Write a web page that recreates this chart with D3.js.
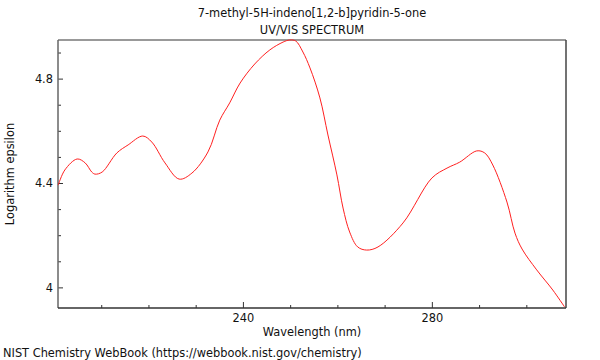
<!DOCTYPE html>
<html lang="en">
<head>
    <meta charset="UTF-8" />
    <title>UV/VIS spectrum</title>
    <script src="https://d3js.org/d3.v7.min.js"></script>
    <style>
        body { margin: 0; background: #fff; }
        svg text { font-family: "DejaVu Sans", sans-serif; fill: #111; }
    </style>
</head>
<body>
    <div class="canvas"></div>

    <script>
        /* 데이터: 파장(nm)과 log epsilon */
        const wavelength = [200.9, 202.3, 204.9, 206.6, 208.0, 208.7, 210.2, 213.3, 215.7, 218.8,
            220.7, 223.5, 226.5, 229.2, 232.6, 235.1, 237.2, 239.4, 242.5, 245.7,
            248.5, 249.9, 251.2, 252.7, 254.2, 256.3, 258.0, 259.9, 261.2, 262.6,
            264.3, 266.2, 268.6, 273.9, 280.0, 283.2, 285.9, 289.5, 291.2, 292.9,
            295.9, 297.6, 299.1, 302.2, 305.6, 308.1];
        const logEps = [4.392, 4.45, 4.492, 4.477, 4.442, 4.434, 4.442, 4.515, 4.546, 4.58,
            4.557, 4.477, 4.415, 4.438, 4.519, 4.641, 4.707, 4.783, 4.856, 4.91,
            4.94, 4.948, 4.944, 4.902, 4.841, 4.726, 4.584, 4.431, 4.304, 4.212,
            4.155, 4.143, 4.155, 4.247, 4.419, 4.457, 4.48, 4.523, 4.515, 4.469,
            4.327, 4.208, 4.147, 4.067, 3.99, 3.925];
        const xMajor = [240, 280];
        const xMinor = [210, 220, 230, 250, 260, 270, 290, 300];
        const yMajor = [4, 4.4, 4.8];
        const yMinor = [4.1, 4.2, 4.3, 4.5, 4.6, 4.7, 4.9];

        const 전체넓이 = 600, 전체높이 = 360;
        const [상단, 하단, 좌측, 우측] = [40, 52, 58, 34];
        const 그래프넓이 = 전체넓이 - 좌측 - 우측;
        const 그래프높이 = 전체높이 - 상단 - 하단;
        const 글자크기 = 11.4;

        const svg = d3.select(".canvas").append("svg")
            .attr("width", 전체넓이).attr("height", 전체높이);

        const 그래프 = svg.append("g").attr("transform", `translate(${좌측}, ${상단})`);

        const x = d3.scaleLinear().domain([200.85, 308.4]).range([0, 그래프넓이]);
        const y = d3.scaleLinear().domain([3.921, 4.948]).range([그래프높이, 0]);

        // 눈금 (안쪽으로)
        const fmt = d3.format("");
        function axisStyle(g) {
            g.select(".domain").remove();
            g.selectAll("line").attr("stroke", "#333");
            g.selectAll("text").attr("font-size", 글자크기);
        }
        그래프.append("g").attr("transform", `translate(0, ${그래프높이})`)
            .call(d3.axisBottom(x).tickValues(xMajor).tickSize(-6).tickPadding(6).tickFormat(fmt))
            .call(axisStyle);
        그래프.append("g").attr("transform", `translate(0, ${그래프높이})`)
            .call(d3.axisBottom(x).tickValues(xMinor).tickSize(-3).tickFormat(""))
            .call(axisStyle);
        그래프.append("g")
            .call(d3.axisLeft(y).tickValues(yMajor).tickSize(-5).tickPadding(5).tickFormat(fmt))
            .call(axisStyle);
        그래프.append("g")
            .call(d3.axisLeft(y).tickValues(yMinor).tickSize(-3).tickFormat(""))
            .call(axisStyle);

        // 테두리
        그래프.append("line").attr("x1", 0).attr("x2", 그래프넓이).attr("y1", 0).attr("y2", 0)
            .attr("stroke", "#999").attr("stroke-width", 2);
        그래프.append("line").attr("x1", 그래프넓이).attr("x2", 그래프넓이).attr("y1", 0).attr("y2", 그래프높이)
            .attr("stroke", "#444").attr("stroke-width", 1.5);
        그래프.append("line").attr("x1", 0).attr("x2", 0).attr("y1", 0).attr("y2", 그래프높이)
            .attr("stroke", "#666").attr("stroke-width", 1.5);
        그래프.append("line").attr("x1", 0).attr("x2", 그래프넓이).attr("y1", 그래프높이).attr("y2", 그래프높이)
            .attr("stroke", "#333").attr("stroke-width", 1.5);

        // 스펙트럼 선
        const line = d3.line()
            .x((d, i) => x(wavelength[i]))
            .y((d) => y(d))
            .curve(d3.curveCatmullRom.alpha(0.5));
        그래프.append("path").datum(logEps)
            .attr("d", line)
            .attr("fill", "none")
            .attr("stroke", "#ff2020")
            .attr("stroke-width", 1);

        // 글자
        svg.append("text").attr("x", 312).attr("y", 17).attr("text-anchor", "middle")
            .attr("font-size", 글자크기).text("7-methyl-5H-indeno[1,2-b]pyridin-5-one");
        svg.append("text").attr("x", 312).attr("y", 34).attr("text-anchor", "middle")
            .attr("font-size", 글자크기).text("UV/VIS SPECTRUM");
        svg.append("text").attr("x", 312).attr("y", 336).attr("text-anchor", "middle")
            .attr("font-size", 글자크기).text("Wavelength (nm)");
        svg.append("text").attr("transform", "translate(14, 174) rotate(-90)").attr("text-anchor", "middle")
            .attr("font-size", 글자크기).text("Logarithm epsilon");
        svg.append("text").attr("x", 3).attr("y", 357)
            .attr("font-size", 글자크기).text("NIST Chemistry WebBook (https://webbook.nist.gov/chemistry)");
    </script>
</body>
</html>
